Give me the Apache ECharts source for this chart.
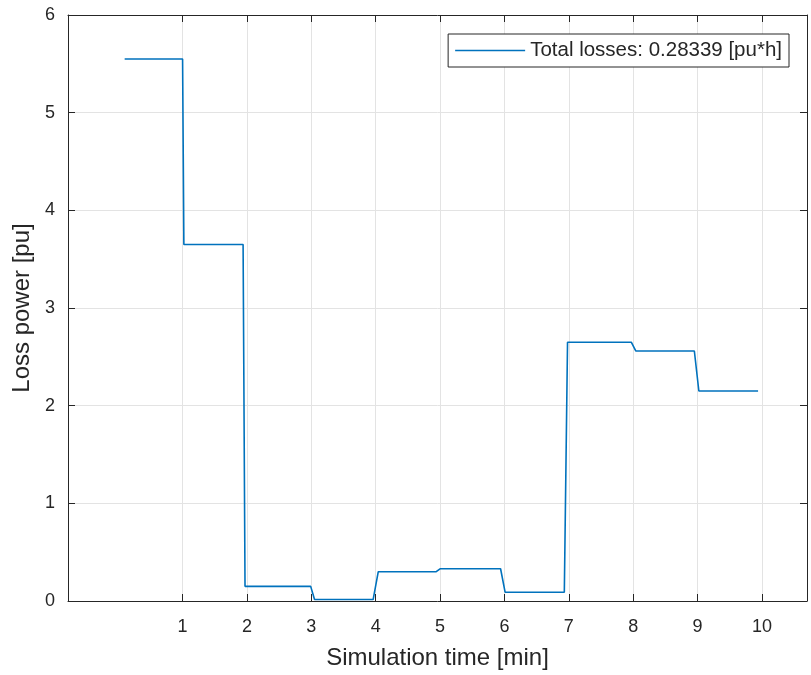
<!DOCTYPE html>
<html>
<head>
<meta charset="utf-8">
<script src="https://cdn.jsdelivr.net/npm/echarts@6/dist/echarts.min.js"></script>
<style>
  html, body { margin: 0; padding: 0; background: #fff; }
  #chart { width: 811px; height: 675px; }
</style>
</head>
<body>
<div id="chart"></div>
<script>
// time [min] and loss power [pu]
const timeMin = [0.10, 1.00, 1.02, 1.94, 1.97, 2.99, 3.05, 3.96, 4.04, 4.94, 5.00, 5.94, 6.01, 6.93, 6.98, 7.97, 8.04, 8.95, 9.02, 9.94];
const lossPu  = [5.55, 5.55, 3.65, 3.65, 0.15, 0.15, 0.015, 0.015, 0.30, 0.30, 0.33, 0.33, 0.09, 0.09, 2.65, 2.65, 2.56, 2.56, 2.15, 2.15];
const xTicks = [1, 2, 3, 4, 5, 6, 7, 8, 9, 10];
const seriesName = 'Total losses: 0.28339 [pu*h]';

const chart = echarts.init(document.getElementById('chart'));

const axisColor = '#262626';
const gridColor = '#e3e3e3';
const font = 'Liberation Sans, Arial, sans-serif';

// shared frame axis style (MATLAB box: ticks inside, on all four sides)
const frameLine = { show: true, onZero: false, lineStyle: { color: axisColor } };

const option = {
  animation: false,
  textStyle: { fontFamily: font },
  grid: { left: 68, right: 4, top: 15, bottom: 74, containLabel: false },
  legend: {
    data: [seriesName],
    right: 22,
    top: 34,
    padding: [6, 7, 6, 7],
    icon: 'rect',
    itemWidth: 70,
    itemHeight: 1.5,
    itemGap: 0,
    borderColor: axisColor,
    borderWidth: 1,
    borderRadius: 0,
    backgroundColor: '#fff',
    textStyle: { fontSize: 20.5, color: axisColor, fontFamily: font }
  },
  xAxis: [
    {
      type: 'value',
      min: -0.78,
      max: 10.7,
      name: 'Simulation time [min]',
      nameLocation: 'middle',
      nameGap: 45,
      nameTextStyle: { fontSize: 24, color: axisColor },
      axisLine: frameLine,
      axisTick: { show: true, inside: true, length: 7, customValues: xTicks, lineStyle: { color: axisColor } },
      axisLabel: { customValues: xTicks, fontSize: 18, color: axisColor, margin: 17 },
      splitLine: { show: true, lineStyle: { color: gridColor } }
    },
    {
      type: 'value',
      position: 'top',
      min: -0.78,
      max: 10.7,
      axisLine: frameLine,
      axisTick: { show: true, inside: true, length: 7, customValues: xTicks, lineStyle: { color: axisColor } },
      axisLabel: { show: false },
      splitLine: { show: false }
    }
  ],
  yAxis: [
    {
      type: 'value',
      min: 0,
      max: 6,
      interval: 1,
      name: 'Loss power [pu]',
      nameLocation: 'middle',
      nameGap: 31,
      nameTextStyle: { fontSize: 24, color: axisColor },
      axisLine: frameLine,
      axisTick: { show: true, inside: true, length: 7, lineStyle: { color: axisColor } },
      axisLabel: { fontSize: 18, color: axisColor, margin: 13 },
      splitLine: { show: true, lineStyle: { color: gridColor } }
    },
    {
      type: 'value',
      position: 'right',
      min: 0,
      max: 6,
      interval: 1,
      axisLine: frameLine,
      axisTick: { show: true, inside: true, length: 7, lineStyle: { color: axisColor } },
      axisLabel: { show: false },
      splitLine: { show: false }
    }
  ],
  series: [
    {
      name: seriesName,
      type: 'line',
      symbol: 'none',
      lineStyle: { color: '#0072BD', width: 1.6 },
      itemStyle: { color: '#0072BD' },
      data: timeMin.map((t, i) => [t, lossPu[i]])
    }
  ]
};

chart.setOption(option);
</script>
</body>
</html>
